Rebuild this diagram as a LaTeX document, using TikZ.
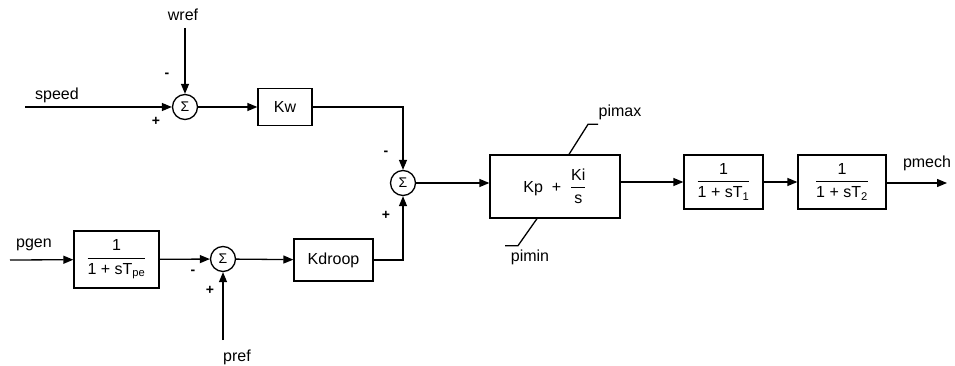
\documentclass[tikz,border=0pt]{standalone}
\usepackage{amsmath}
\usepackage{fontspec}
\setmainfont{Liberation Sans}
\usetikzlibrary{arrows.meta}

\tikzset{
  block/.style={draw, rectangle, line width=1.3pt, inner sep=0pt},
  summer/.style={draw, circle, line width=1.3pt, minimum size=25pt, inner sep=0pt, font=\fontsize{14}{14}\selectfont},
  signal/.style={line width=1.3pt, -{Triangle[length=10pt,width=8pt]}},
  wire/.style={line width=1.3pt},
  lbl/.style={inner sep=0pt, font=\fontsize{16}{18}\selectfont},
  sgn/.style={inner sep=0pt, font=\fontsize{14}{14}\selectfont\bfseries}
}

\begin{document}
\begin{tikzpicture}[x=1pt, y=-1pt, font=\fontsize{16}{18}\selectfont]

    \useasboundingbox (0,0) rectangle (955,366);

% Sumadores
	\node[summer] (sumw)  at (185,107) {Σ};
	\node[summer] (sump)  at (223,259) {Σ};
	\node[summer] (sumpi) at (403,183) {Σ};

% Bloques
	\node[block, minimum width=54pt, minimum height=37pt] (kw) at (285,107) {Kw};
	\node[block, minimum width=85pt, minimum height=57pt] (tpe) at (116.5,259.5)
		{$\dfrac{\text{1}}{\text{1 + sT}_{\text{pe}}}$};
	\node[block, minimum width=79pt, minimum height=42pt] (kdroop) at (333.5,260) {Kdroop};
	\node[block, minimum width=130pt, minimum height=63pt] (pi) at (555,186.5)
		{Kp \ + \ $\dfrac{\text{Ki}}{\text{s}}$};
	\node[block, minimum width=79pt, minimum height=54pt] (lagone) at (723.5,182)
		{$\dfrac{\text{1}}{\text{1 + sT}_{\text{1}}}$};
	\node[block, minimum width=88pt, minimum height=54pt] (lagtwo) at (842,182)
		{$\dfrac{\text{1}}{\text{1 + sT}_{\text{2}}}$};

% Entradas y salida
	\coordinate (speedin) at (25,107);
	\coordinate (wrefin) at (185,28);
	\coordinate (pgenin) at (10,260);
	\coordinate (prefin) at (223,340);
	\coordinate (pmechout) at (947,183);

	\node[lbl] (speed) at (57,95) {speed};
	\node[lbl] (wref) at (183,15) {wref};
	\node[lbl] (pgen) at (34,245) {pgen};
	\node[lbl] (pref) at (237,357) {pref};
	\node[lbl] (pmech) at (927,163) {pmech};
	\node[lbl] (pimax) at (620,112) {pimax};
	\node[lbl] (pimin) at (530,257) {pimin};

% Signos
	\node[sgn] (wminus) at (167,75) {-};
	\node[sgn] (splus) at (156,121) {+};
	\node[sgn] (kwminus) at (386,153) {-};
	\node[sgn] (kdplus) at (386,215) {+};
	\node[sgn] (pgminus) at (193,272) {-};
	\node[sgn] (prplus) at (210,290) {+};

% Conexiones
	\draw[signal] (speedin) -- (sumw);
	\draw[signal] (wrefin) -- (sumw);
	\draw[signal] (sumw) -- (kw);
	\draw[signal] (kw.east) -| (sumpi.north);
	\draw[signal] (pgenin) -- (tpe);
	\draw[signal] (tpe) -- (sump);
	\draw[signal] (prefin) -- (sump);
	\draw[signal] (sump) -- (kdroop);
	\draw[signal] (kdroop.east) -| (sumpi.south);
	\draw[signal] (sumpi) -- (sumpi -| pi.west);
	\draw[signal] (pi.east |- lagone) -- (lagone);
	\draw[signal] (lagone) -- (lagtwo);
	\draw[signal] (lagtwo.east |- pmechout) -- (pmechout);

% Limites
	\draw[wire] ([xshift=14pt]pi.north) -- ++(19,-30) -- ++(10,0);
	\draw[wire] ([xshift=-18pt]pi.south) -- ++(-19,27) -- ++(-13,0);

\end{tikzpicture}
\end{document}
